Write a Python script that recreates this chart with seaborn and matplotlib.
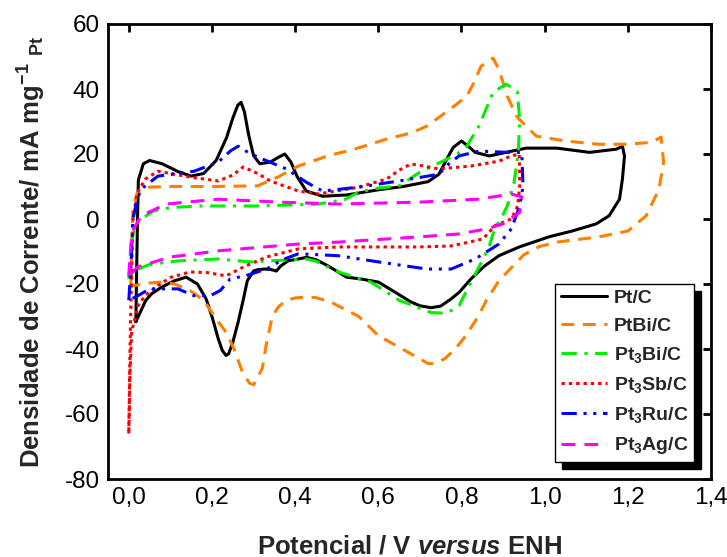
import matplotlib
matplotlib.use("Agg")
import matplotlib.pyplot as plt
import seaborn as sns
import pandas as pd

# ---------------- data ----------------
ptc_x = [0.017, 0.019, 0.021, 0.023, 0.035, 0.05, 0.08, 0.12, 0.15, 0.18, 0.21, 0.235, 0.25, 0.262, 0.27,
         0.278, 0.288, 0.30, 0.315, 0.34, 0.36, 0.375, 0.39, 0.405, 0.427, 0.466, 0.524, 0.601, 0.66, 0.72,
         0.746, 0.765, 0.78, 0.80, 0.815, 0.833, 0.867, 0.907, 0.955, 1.03, 1.108, 1.173, 1.187,
         1.192, 1.187, 1.18, 1.155, 1.124, 1.066, 1.01, 0.939, 0.89, 0.855, 0.823, 0.795, 0.775, 0.75, 0.727,
         0.70, 0.678, 0.64, 0.60, 0.56, 0.524, 0.48, 0.45, 0.427, 0.40, 0.384, 0.365, 0.355, 0.34, 0.326,
         0.31, 0.30, 0.285, 0.275, 0.263, 0.25, 0.24, 0.234, 0.225, 0.215, 0.2, 0.186, 0.165, 0.138, 0.11,
         0.08, 0.055, 0.041, 0.017]
ptc_y = [-31.6, -15, 0, 12, 17, 18, 17, 14.5, 13.2, 14, 18, 25, 31, 35, 35.9,
         33, 26, 19.5, 17, 17.5, 19, 20, 17.5, 13, 8.6, 7.0, 7.4, 9.0, 10, 11.5,
         13.8, 18.5, 22, 24, 22.5, 20.5, 19.4, 20.5, 21.8, 21.8, 20.5, 21.5, 22.4,
         19.4, 12.3, 6.1, 1.0, -1.5, -3.7, -5.5, -8.6, -11.3, -14.5, -18.4, -22.5, -24.6, -26.8, -27.3,
         -26.7, -25.5, -22.5, -19.4, -18.5, -17.9, -14.5, -12.5, -11.8, -12.5, -12.8, -14.5, -16, -15.5, -15.4,
         -15.6, -16, -19, -25, -31.7, -38, -41.5, -42, -40.5, -36.8, -30, -24.6, -20, -17.9, -19,
         -20.9, -23, -25, -31.6]

ptbi_x = [0.005, 0.007, 0.01, 0.02, 0.05, 0.1, 0.2, 0.31, 0.36, 0.408, 0.48, 0.543, 0.62, 0.68, 0.717,
          0.746, 0.78, 0.813, 0.83, 0.847, 0.876, 0.89, 0.90, 0.91, 0.934, 0.96, 0.98, 1.05, 1.13, 1.2,
          1.257, 1.28, 1.286, 1.275, 1.244, 1.2, 1.13, 1.03, 0.987, 0.95, 0.92, 0.89, 0.86, 0.84, 0.81,
          0.785, 0.76, 0.735, 0.72, 0.669, 0.6, 0.553, 0.485, 0.45, 0.427, 0.4, 0.379, 0.36, 0.345, 0.33,
          0.321, 0.30, 0.29, 0.273, 0.253, 0.235, 0.215, 0.18, 0.147, 0.11, 0.08, 0.04, 0.012, 0.005]
ptbi_y = [-21, -8, 3, 8, 9.8, 10, 10, 10.2, 13, 16.3, 19.5, 21.5, 24.6, 26.5, 28.6,
          31.3, 34.5, 37.8, 42, 47, 49.5, 46, 42, 37.8, 31.3, 28, 25.5, 24, 23, 23,
          23.6, 25.2, 17.5, 9.2, 1.0, -3.7, -5.5, -7.1, -8.5, -11, -15, -19, -25, -30, -36,
          -40, -43, -44.5, -44.5, -40.8, -35.9, -30, -25.5, -24.2, -24, -24.3, -25, -27, -30, -39,
          -46, -51, -50.5, -47, -40, -35, -31.6, -25, -22, -20, -19.4, -19.8, -20.5, -21]

pt3bi_x = [0.0, 0.005, 0.015, 0.03, 0.06, 0.1, 0.167, 0.31, 0.456, 0.52, 0.553, 0.6, 0.65, 0.7, 0.755,
           0.79, 0.813, 0.842, 0.852, 0.876, 0.907, 0.92, 0.934, 0.94, 0.937, 0.932, 0.926, 0.91, 0.895,
           0.88, 0.867, 0.852, 0.823, 0.794, 0.765, 0.727, 0.65, 0.582, 0.504, 0.45, 0.427, 0.34, 0.292,
           0.215, 0.118, 0.05, 0.022, 0.0]
pt3bi_y = [-18.4, -8, -2, 0, 2.5, 3.5, 4, 4, 4.6, 6, 8.3, 9.5, 10.2, 14.4, 17.8,
           20, 22.4, 28.6, 31.6, 39, 41.5, 40.5, 39.3, 30.7, 21.5, 16.3, 11, 4, 0,
           -3, -8.3, -12.3, -19.4, -26.7, -29, -28.8, -25, -19.4, -16.3, -13, -12.3, -12.9, -13.2,
           -12.3, -12.9, -14, -15.4, -18.4]

pt3sb_x = [0.0, 0.003, 0.006, 0.01, 0.02, 0.04, 0.07, 0.147, 0.215, 0.25, 0.275, 0.31, 0.34, 0.408,
           0.456, 0.553, 0.62, 0.65, 0.678, 0.7, 0.746, 0.823, 0.89, 0.92, 0.939,
           0.94, 0.935, 0.92, 0.881, 0.852, 0.833, 0.775, 0.698, 0.504, 0.408, 0.331, 0.28, 0.234, 0.19,
           0.147, 0.1, 0.07, 0.04, 0.022, 0.007, 0.003, 0.0]
pt3sb_y = [-66, -40, -20, 0, 8, 12.3, 14.7, 12.9, 11.7, 13.5, 16, 14, 11.7, 8.6,
           7.7, 9.8, 12.3, 15, 16.9, 16.5, 15.4, 16.3, 17.8, 19.4, 20,
           10, 4, 0, -2, -6.1, -6.7, -8.3, -8.6, -8.6, -9.2, -11.7, -14.5, -17.5, -16.5,
           -16.3, -18, -20.5, -23.5, -26.7, -34.7, -47, -66]

pt3ru_x = [0.0, 0.005, 0.01, 0.02, 0.03, 0.07, 0.157, 0.215, 0.245, 0.263, 0.28, 0.311, 0.379, 0.427,
           0.466, 0.553, 0.65, 0.746, 0.77, 0.794, 0.842, 0.91, 0.945,
           0.948, 0.94, 0.92, 0.89, 0.833, 0.775, 0.717, 0.6, 0.504, 0.408, 0.37, 0.331, 0.28, 0.244,
           0.22, 0.196, 0.157, 0.118, 0.05, 0.022, 0.0]
pt3ru_y = [-25, -15, 0, 6, 9.2, 13.2, 14.7, 17.5, 21, 22.4, 21, 19, 15.4, 11.3,
           8.6, 9.8, 11.7, 13.8, 17, 19.4, 20.9, 20.5, 20.5,
           10, 4, -3, -7.7, -12.3, -15.4, -15.4, -13.2, -11.3, -10.7, -12.5, -15.4, -17.5, -18.4,
           -22, -23.6, -23.6, -21.5, -21.5, -23.6, -25]

pt3ag_x = [0.0, 0.005, 0.012, 0.03, 0.09, 0.215, 0.36, 0.504, 0.7, 0.842, 0.92, 0.945,
           0.94, 0.9, 0.862, 0.794, 0.698, 0.504, 0.408, 0.215, 0.1, 0.022, 0.0]
pt3ag_y = [-17.5, -8, -3, 1, 4.6, 6.1, 5.2, 4.6, 5.2, 6.1, 7.7, 6.8,
           2.1, -1.5, -3, -4.6, -5.5, -7.1, -7.7, -9.8, -11.7, -14.7, -17.5]

series_names = ["Pt/C", "PtBi/C", "Pt$_3$Bi/C", "Pt$_3$Sb/C", "Pt$_3$Ru/C", "Pt$_3$Ag/C"]
series_x = [ptc_x, ptbi_x, pt3bi_x, pt3sb_x, pt3ru_x, pt3ag_x]
series_y = [ptc_y, ptbi_y, pt3bi_y, pt3sb_y, pt3ru_y, pt3ag_y]

xticks = [0.0, 0.2, 0.4, 0.6, 0.8, 1.0, 1.2, 1.4]
xtick_labels = ["0,0", "0,2", "0,4", "0,6", "0,8", "1,0", "1,2", "1,4"]
yticks = [-80, -60, -40, -20, 0, 20, 40, 60]

# ---------------- styling ----------------
colors = ["#000000", "#FF7F00", "#00EE00", "#FF0000", "#0000FF", "#FF00FF"]
dash_styles = ["-", (0, (4.2, 2.8)), (0, (5, 2.5, 1, 2.5)), (0, (1.1, 1.3)),
               (0, (5, 2.2, 1, 2.2, 1, 2.2)), (0, (4.5, 3))]

sns.set_theme(style="white")
plt.rcParams["font.family"] = ["Liberation Sans", "DejaVu Sans"]
plt.rcParams["axes.unicode_minus"] = False
plt.rcParams["mathtext.fontset"] = "custom"
plt.rcParams["mathtext.rm"] = "Liberation Sans:bold"
plt.rcParams["mathtext.bf"] = "Liberation Sans:bold"
plt.rcParams["mathtext.it"] = "Liberation Sans:bold:italic"

fig = plt.figure(figsize=(7.27, 5.57), dpi=100)
ax = fig.add_axes([108 / 727, 1 - 479 / 557, (711 - 108) / 727, (479 - 24) / 557])

for name, xs, ys, c, ls in zip(series_names, series_x, series_y, colors, dash_styles):
    df = pd.DataFrame({"x": xs, "y": ys})
    sns.lineplot(data=df, x="x", y="y", sort=False, estimator=None, ax=ax,
                 color=c, linestyle=ls, linewidth=2.2, label=name)

ax.set_xlim(-0.05, 1.4)
ax.set_ylim(-80, 60)
ax.set_xticks(xticks)
ax.set_xticklabels(xtick_labels)
ax.set_yticks(yticks)
ax.tick_params(direction="in", length=6, width=2, top=True, right=True,
               labelsize=17.5, colors="black", pad=6)
for sp in ax.spines.values():
    sp.set_linewidth(2)
    sp.set_color("black")

ax.set_xlabel(r"Potencial / V $\mathit{versus}$ ENH", fontsize=18.5, fontweight="bold", labelpad=18)
ax.set_ylabel(r"Densidade de Corrente/ mA mg$^{\mathbf{-1}}$ $_{\mathbf{Pt}}$",
              fontsize=18.5, fontweight="bold", labelpad=12)

leg = ax.legend(loc="lower right", bbox_to_anchor=(0.972, 0.037), frameon=True,
                prop={"weight": "bold", "size": 14}, handlelength=2.35, handletextpad=0.35,
                labelspacing=0.52, borderpad=0.3, borderaxespad=0.0, fancybox=False,
                shadow={"ox": 5, "oy": -5, "facecolor": "black", "edgecolor": "black", "alpha": 1})
leg.get_frame().set_edgecolor("black")
leg.get_frame().set_linewidth(1.0)
leg.get_frame().set_alpha(1)

fig.savefig("out.png", dpi=100)
